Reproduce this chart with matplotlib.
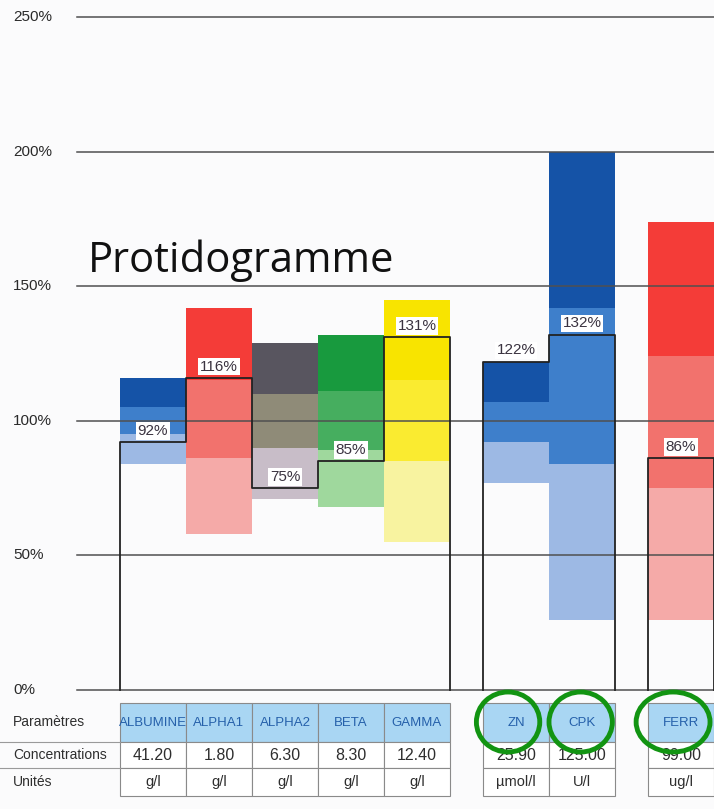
import numpy as np
import matplotlib
matplotlib.use("Agg")
from matplotlib import pyplot as plt
from matplotlib.patches import Rectangle, Ellipse

# chart data
params = ['ALBUMINE', 'ALPHA1', 'ALPHA2', 'BETA', 'GAMMA', 'ZN', 'CPK', 'FERR']
xpos = [0, 1, 2, 3, 4, 5.5, 6.5, 8]
# reference band edges (%): low, 1/3, 2/3, high
bands = [
    [84, 95, 105, 116],
    [58, 86, 115, 142],
    [71, 90, 110, 129],
    [68, 89, 111, 132],
    [55, 85, 115, 145],
    [77, 92, 107, 122],
    [26, 84, 142, 200],
    [26, 75, 124, 174],
]
values = [92, 116, 75, 85, 131, 122, 132, 86]
groups = [[0, 1, 2, 3, 4], [5, 6], [7]]
concentrations = ['41.20', '1.80', '6.30', '8.30', '12.40', '25.90', '125.00', '99.00']
units = ['g/l', 'g/l', 'g/l', 'g/l', 'g/l', 'µmol/l', 'U/l', 'ug/l']
circled = ['ZN', 'CPK', 'FERR']
yticks = [0, 50, 100, 150, 200, 250]

palette = {
    'blue': ['#9db9e4', '#3e7fcb', '#1553a7'],
    'red': ['#f5aaa8', '#f2726d', '#f43c38'],
    'gray': ['#c8bdc8', '#8f8b78', '#58555f'],
    'green': ['#9fd89d', '#46ae5f', '#189a3e'],
    'yellow': ['#f8f3a0', '#faeb30', '#f8e400'],
}
bar_colors = ['blue', 'red', 'gray', 'green', 'yellow', 'blue', 'blue', 'red']

sans = ['Liberation Sans', 'DejaVu Sans']

fig = plt.figure(figsize=(7.14, 8.09), dpi=100)
fig.patch.set_facecolor('#fbfbfc')

# main chart axes: 0% sits at 690 px, 2.692 px per %
ax = fig.add_axes([0, 109 / 809, 1, 700 / 809])
ax.set_xlim(-2.318, 8.5)
ax.set_ylim(-10 / 2.692, 690 / 2.692)
ax.axis('off')

w = 1.0
for i, p in enumerate(params):
    cols = palette[bar_colors[i]]
    e = bands[i]
    for k in range(3):
        ax.add_patch(Rectangle((xpos[i] - w / 2, e[k]), w, e[k + 1] - e[k],
                               facecolor=cols[k], edgecolor='none', zorder=1))

# horizontal grid lines + labels
for t in yticks:
    ax.plot([-1.15, 8.5], [t, t], color='#505050', lw=1.1, zorder=2)
    ax.text(-2.12, t, f'{t}%', family=sans, fontsize=11, color='#2a2a2a',
            va='center', ha='left')

# step outline of the measured values
for g in groups:
    xs = [xpos[g[0]] - w / 2]
    ys = [0]
    for i in g:
        xs += [xpos[i] - w / 2, xpos[i] + w / 2]
        ys += [values[i], values[i]]
    xs.append(xpos[g[-1]] + w / 2)
    ys.append(0)
    ax.plot(xs, ys, color='#222222', lw=1.3, zorder=3)

for i, v in enumerate(values):
    ax.annotate(f'{v}%', (xpos[i], v), xytext=(0, 3), textcoords='offset points',
                ha='center', va='bottom', family=sans, fontsize=11, color='#3a3340',
                bbox=dict(boxstyle='square,pad=0.12', fc='white', ec='none'), zorder=4)

ax.text(-0.985, 155.3, 'Protidogramme', family=['Open Sans', 'DejaVu Sans'], fontsize=30,
        color='#111111', va='baseline', ha='left', zorder=5)

# table below the chart (y in px from 700 down)
tb = fig.add_axes([0, 0, 1, 109 / 809])
tb.set_xlim(-2.318, 8.5)
tb.set_ylim(109, 0)
tb.axis('off')

rows = [(3, 42), (42, 68), (68, 96)]
for i, p in enumerate(params):
    x0 = xpos[i] - w / 2
    tb.add_patch(Rectangle((x0, rows[0][0]), w, rows[0][1] - rows[0][0],
                           facecolor='#a9d6f3', edgecolor='#8a8a8a', lw=0.8))
    for r0, r1 in rows[1:]:
        tb.add_patch(Rectangle((x0, r0), w, r1 - r0, facecolor='white',
                               edgecolor='#8a8a8a', lw=0.8))
    tb.text(xpos[i], sum(rows[0]) / 2, p, family=sans, fontsize=9.5, color='#2560aa',
            ha='center', va='center')
    tb.text(xpos[i], sum(rows[1]) / 2, concentrations[i], family=sans, fontsize=11.5,
            color='#2e2e2e', ha='center', va='center')
    tb.text(xpos[i], sum(rows[2]) / 2, units[i], family=sans, fontsize=10.5,
            color='#2e2e2e', ha='center', va='center')

row_names = ['Paramètres', 'Concentrations', 'Unités']
for (r0, r1), name in zip(rows, row_names):
    tb.text(-2.12, (r0 + r1) / 2, name, family=sans, fontsize=10, color='#2e2e2e',
            ha='left', va='center')
for yl in [rows[0][1], rows[1][1]]:
    tb.plot([-2.318, -0.5], [yl, yl], color='#9a9a9a', lw=0.8)

for name in circled:
    i = params.index(name)
    wid = 1.12 if name == 'FERR' else 0.96
    shift = -0.02 if name == 'CPK' else -0.12
    tb.add_patch(Ellipse((xpos[i] + shift, 22), wid, 60, facecolor='none',
                         edgecolor='#129412', lw=3.5, zorder=5, clip_on=False))

fig.savefig('out.png', dpi=100, facecolor=fig.get_facecolor())
